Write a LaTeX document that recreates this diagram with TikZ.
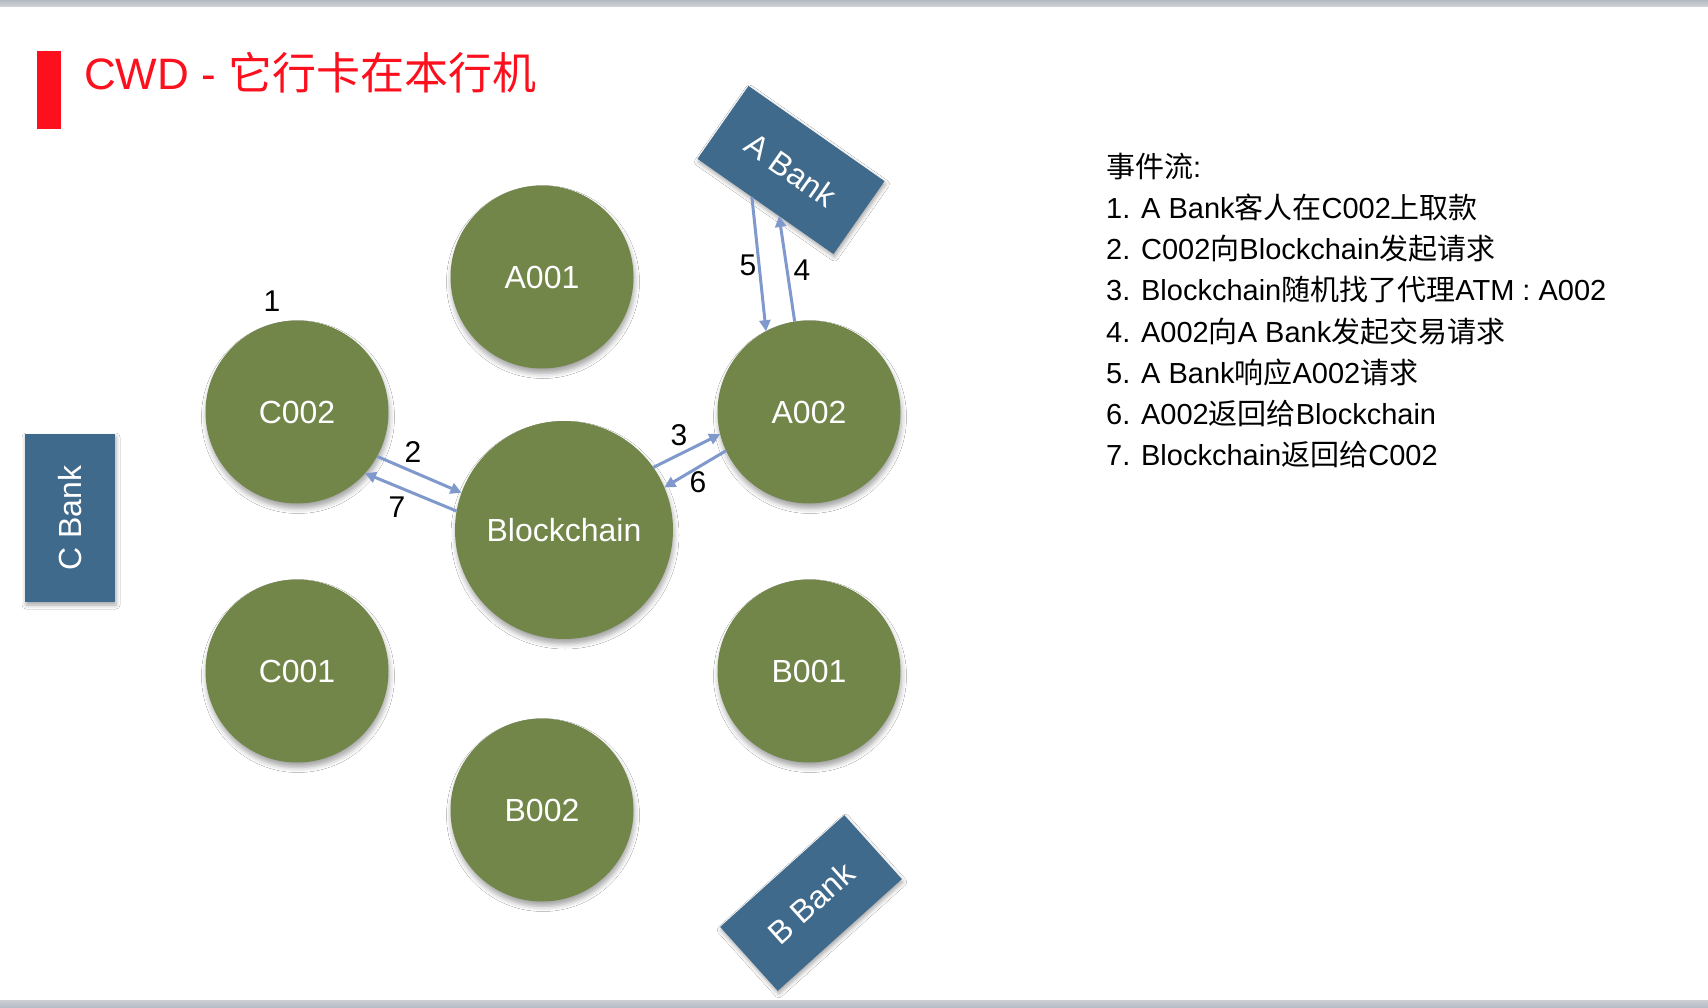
\documentclass[tikz,border=0pt]{standalone}
\usepackage{fontspec}
\setmainfont{Liberation Sans}
\newfontfamily\cjk{Noto Sans CJK SC}
\usetikzlibrary{arrows.meta,calc,shadows.blur}

\definecolor{atmgreen}{RGB}{114,134,74}
\definecolor{bankblue}{RGB}{64,106,140}
\definecolor{flowblue}{RGB}{127,153,204}
\definecolor{titlered}{RGB}{252,16,30}
\definecolor{bargray}{RGB}{180,186,194}

\tikzset{
  atm/.style={circle, fill=atmgreen, inner sep=0pt, outer sep=0pt,
    minimum size=183pt, text=white, font=\fontsize{32}{38}\selectfont,
    blur shadow={shadow xshift=1pt, shadow yshift=-5pt,
      shadow blur radius=5pt, shadow opacity=35}},
  hub/.style={atm, minimum size=218pt},
  bank/.style={rectangle, fill=bankblue, inner sep=0pt, outer sep=0pt,
    text=white, font=\fontsize{32}{38}\selectfont,
    blur shadow={shadow xshift=1pt, shadow yshift=-3pt,
      shadow blur radius=4pt, shadow opacity=35}},
  flow/.style={draw=flowblue, line width=3pt,
    -{Triangle[length=11pt,width=11pt]}},
  num/.style={inner sep=0pt, font=\fontsize{30}{36}\selectfont},
  item/.style={anchor=base west, inner sep=0pt,
    font=\fontsize{29}{34}\selectfont}
}

\begin{document}
\begin{tikzpicture}[x=1pt,y=-1pt]
\useasboundingbox (0,0) rectangle (1708,1008);
\fill[white] (0,0) rectangle (1708,1008);

% slide frame bars
\shade[top color=bargray, bottom color=bargray!60] (0,0) rectangle (1708,7);
\shade[top color=bargray!70, bottom color=bargray] (0,1000) rectangle (1708,1008);

% title
\fill[titlered] (37,51) rectangle (61,129);
\node[anchor=base west, inner sep=0pt, text=titlered,
  font=\fontsize{44}{52}\selectfont] (title) at (84,90)
  {CWD - {\cjk 它行卡在本行机}};

% ATM nodes
\node[atm] (A001) at (542,277) {A001};
\node[atm] (C002) at (297,412) {C002};
\node[atm] (A002) at (809,412) {A002};
\node[hub] (BC)   at (564,530) {Blockchain};
\node[atm] (C001) at (297,671) {C001};
\node[atm] (B001) at (809,671) {B001};
\node[atm] (B002) at (542,810) {B002};

% banks
\node[bank, minimum width=166pt, minimum height=89pt, rotate=-35]
  (ABank) at (791,170) {A Bank};
\node[bank, minimum width=167pt, minimum height=86pt, rotate=42]
  (BBank) at (811,903) {B Bank};
\node[bank, minimum width=168pt, minimum height=90pt, rotate=90]
  (CBank) at (70,518) {C Bank};

% message flow
\draw[flow] (C002.-29) -- (BC.160);
\draw[flow] (BC.170) -- (C002.-42);
\draw[flow] (BC.35) -- (A002.-166);
\draw[flow] (A002.-155) -- (BC.23);
\draw[flow] ($(ABank.south west)!0.4!(ABank.south east)$) -- (A002.118);
\draw[flow] (A002.99) -- ($(ABank.south west)!0.6!(ABank.south east)$);

% step numbers
\node[num] (s1) at (272,301) {1};
\node[num] (s2) at (413,452) {2};
\node[num] (s3) at (679,435) {3};
\node[num] (s4) at (802,270) {4};
\node[num] (s5) at (748,265) {5};
\node[num] (s6) at (698,482) {6};
\node[num] (s7) at (397,507) {7};

% event list
\node[item] (h)  at (1106,177.4) {{\cjk 事件流}:};
\node[item] (l1) at (1106,218.6) {1. A Bank{\cjk 客人在}C002{\cjk 上取款}};
\node[item] (l2) at (1106,259.8) {2. C002{\cjk 向}Blockchain{\cjk 发起请求}};
\node[item] (l3) at (1106,301.0) {3. Blockchain{\cjk 随机找了代理}ATM : A002};
\node[item] (l4) at (1106,342.2) {4. A002{\cjk 向}A Bank{\cjk 发起交易请求}};
\node[item] (l5) at (1106,383.4) {5. A Bank{\cjk 响应}A002{\cjk 请求}};
\node[item] (l6) at (1106,424.6) {6. A002{\cjk 返回给}Blockchain};
\node[item] (l7) at (1106,465.8) {7. Blockchain{\cjk 返回给}C002};
\end{tikzpicture}
\end{document}
